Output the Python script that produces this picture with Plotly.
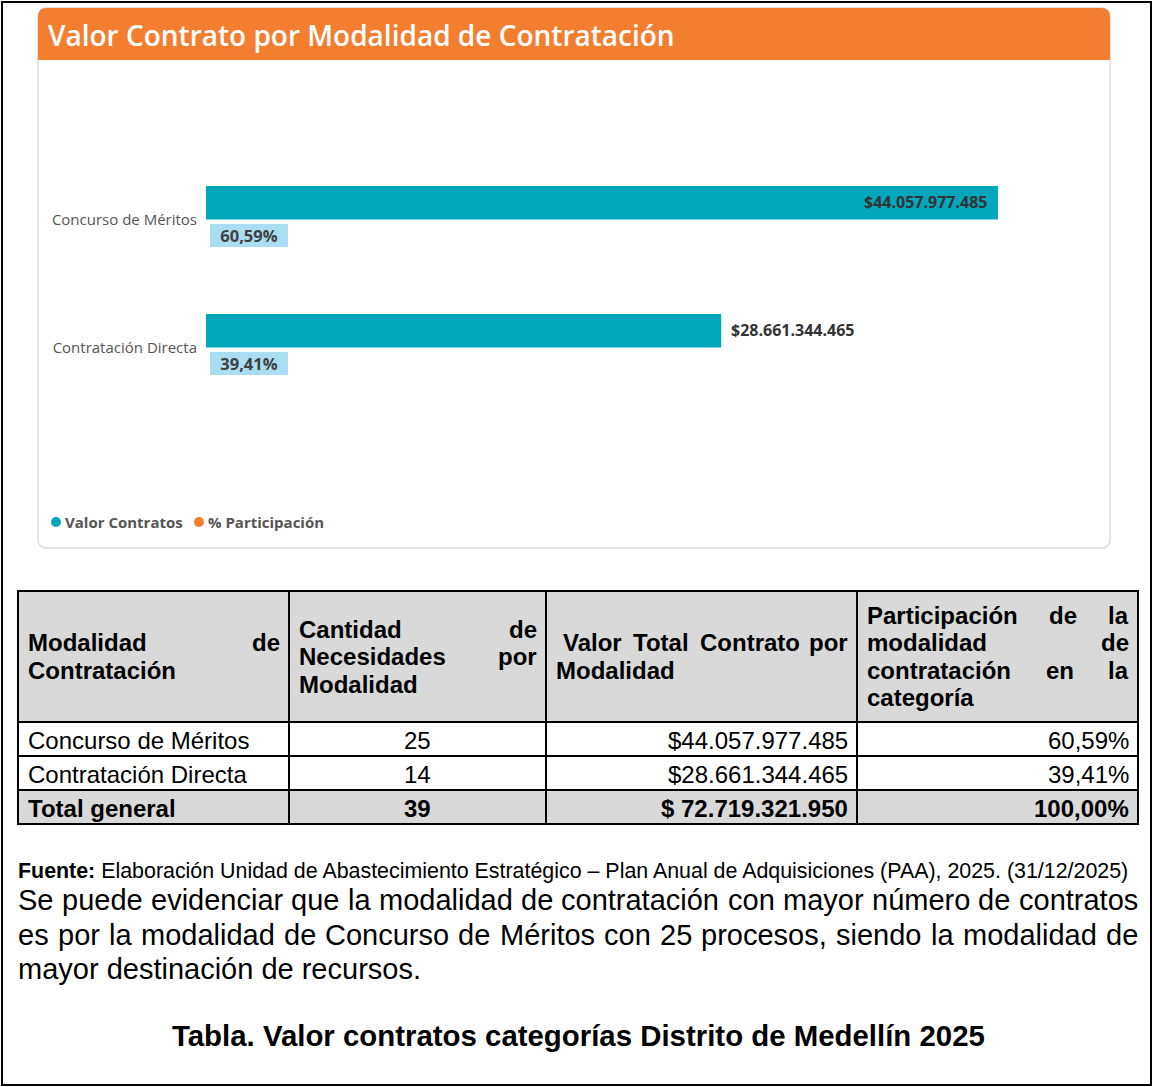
import unicodedata
import plotly.graph_objects as go

W, H = 1154, 1087

# ---------------- data ----------------
modalidades = ["Concurso de Méritos", "Contratación Directa"]
valor_contratos = [44057977485, 28661344465]
participacion = [60.59, 39.41]          # %
cantidad = [25, 14]

titulo = "Valor Contrato por Modalidad de Contratación"
legend_labels = ["Valor Contratos", "% Participación"]
header_lines = [
    ["Modalidad de", "Contratación"],
    ["Cantidad de", "Necesidades por", "Modalidad"],
    ["Valor Total Contrato por", "Modalidad"],
    ["Participación de la", "modalidad de", "contratación en la", "categoría"],
]
total_label = "Total general"
fuente = ("<b>Fuente:</b> Elaboración Unidad de Abastecimiento Estratégico – Plan Anual de "
          "Adquisiciones (PAA), 2025. (31/12/2025)")
parrafo = [
    "Se puede evidenciar que la modalidad de contratación con mayor número de contratos",
    "es por la modalidad de Concurso de Méritos con 25 procesos, siendo la modalidad de",
    "mayor destinación de recursos.",
]
caption = "Tabla. Valor contratos categorías Distrito de Medellín 2025"

# ---------------- styles ----------------
TEAL = "#01A7BB"
ORANGE = "#F47E2F"
LBLUE = "#A9DDF1"
GREY_FILL = "#D9D9D9"
UI = "Segoe UI, Open Sans, Noto Sans, sans-serif"
ARIAL = "Arial, Liberation Sans, sans-serif"


def px(x):
    return x / W


def py(y):
    return 1 - y / H


# Arial / Liberation Sans advance widths (1/1000 em)
_low = "abcdefghijklmnopqrstuvwxyz"
_up = "ABCDEFGHIJKLMNOPQRSTUVWXYZ"
REG = dict(zip(_low, [556, 556, 500, 556, 556, 278, 556, 556, 222, 222, 500, 222, 833,
                      556, 556, 556, 556, 333, 500, 278, 556, 500, 722, 500, 500, 500]))
REG.update(zip(_up, [667, 667, 722, 722, 667, 611, 778, 722, 278, 500, 667, 556, 833,
                     722, 778, 667, 778, 722, 667, 611, 722, 667, 944, 667, 667, 611]))
BOLD = dict(zip(_low, [556, 611, 556, 611, 556, 333, 611, 611, 278, 278, 556, 278, 889,
                       611, 611, 611, 611, 389, 556, 333, 611, 556, 778, 556, 556, 500]))
BOLD.update(zip(_up, [722, 722, 722, 722, 667, 611, 778, 722, 278, 556, 722, 611, 833,
                      722, 778, 667, 778, 722, 667, 611, 722, 667, 944, 667, 667, 611]))
for d in (REG, BOLD):
    d.update({c: 556 for c in "0123456789$–"})
    d.update({" ": 278, ",": 278, ".": 278, "/": 278, "(": 333, ")": 333, "%": 889})
REG[":"] = 278
BOLD[":"] = 333


def text_width(s, size, bold=False):
    table = BOLD if bold else REG
    tot = 0
    for ch in s:
        base = unicodedata.normalize("NFD", ch)[0]
        tot += table.get(base, 556)
    return tot / 1000 * size


fig = go.Figure()


def txt(x, y, s, size, family=ARIAL, color="black", anchor="left", weight=None, **kw):
    font = dict(size=size, family=family, color=color)
    if weight:
        font["weight"] = weight
    fig.add_annotation(x=px(x), y=py(y), xref="paper", yref="paper", text=s,
                       showarrow=False, xanchor=anchor, yanchor="middle", font=font,
                       borderpad=0, borderwidth=0, **kw)


def line_text(line, x0, x1, y, size, bold=False, justify=True):
    words = line.split()
    if not justify or len(words) < 2:
        txt(x0, y, f"<b>{line}</b>" if bold else line, size)
        return
    ws = [text_width(w, size, bold) for w in words]
    gap = (x1 - x0 - sum(ws)) / (len(words) - 1)
    x = x0
    for i, w in enumerate(words):
        s = f"<b>{w}</b>" if bold else w
        if i == len(words) - 1:
            txt(x1, y, s, size, anchor="right")
        else:
            txt(x, y, s, size)
        x += ws[i] + gap


def rrect(x0, y0, x1, y1, r, top=True, bottom=True):
    rt = r if top else 0
    rb = r if bottom else 0

    def p(x, y):
        return f"{px(x):.5f},{py(y):.5f}"
    return (f"M{p(x0 + rt, y0)} L{p(x1 - rt, y0)} Q{p(x1, y0)} {p(x1, y0 + rt)} "
            f"L{p(x1, y1 - rb)} Q{p(x1, y1)} {p(x1 - rb, y1)} L{p(x0 + rb, y1)} "
            f"Q{p(x0, y1)} {p(x0, y1 - rb)} L{p(x0, y0 + rt)} Q{p(x0, y0)} {p(x0 + rt, y0)} Z")


# ---------------- outer frame & card ----------------
fig.add_shape(type="rect", xref="paper", yref="paper", x0=px(2), x1=px(1151), y0=py(2), y1=py(1085),
              line=dict(color="black", width=2), fillcolor="rgba(0,0,0,0)", layer="below")
fig.add_shape(type="path", xref="paper", yref="paper", path=rrect(38, 8, 1110, 548, 9),
              fillcolor="white", line=dict(color="#DCDCDC", width=1.5), layer="below")
fig.add_shape(type="path", xref="paper", yref="paper", path=rrect(38, 8, 1110, 60, 9, bottom=False),
              fillcolor=ORANGE, line=dict(width=0), layer="below")
txt(48, 35, titulo, 28, family=UI, color="white", weight=600)

# ---------------- bars ----------------
fig.add_trace(go.Bar(y=modalidades, x=valor_contratos, orientation="h", name=legend_labels[0],
                     marker=dict(color=TEAL, line=dict(width=0)), showlegend=False, hoverinfo="skip"))
fig.add_trace(go.Bar(y=modalidades, x=[p / 100 for p in participacion], orientation="h",
                     name=legend_labels[1], marker=dict(color=ORANGE, line=dict(width=0)),
                     showlegend=False, hoverinfo="skip"))

vmax = max(valor_contratos)
for cat, v, p in zip(modalidades, valor_contratos, participacion):
    label = "$" + f"{v:,.0f}".replace(",", ".")
    inside = v / vmax > 0.75
    fig.add_annotation(x=v, y=cat, xref="x", yref="y", text=label, showarrow=False,
                       xanchor="right" if inside else "left", xshift=-11 if inside else 10,
                       yshift=17, yanchor="middle", borderpad=0, borderwidth=0,
                       font=dict(family=UI, size=16, color="#333333", weight=700))
    fig.add_annotation(x=0, y=cat, xref="x", yref="y", text=f"{p:.2f}".replace(".", ",") + "%",
                       showarrow=False, xanchor="left", xshift=4, yshift=-16, yanchor="middle",
                       bgcolor=LBLUE, width=72, height=17, borderpad=3, borderwidth=0, align="center",
                       font=dict(family=UI, size=16.5, color="#404040", weight=700))

# legend
for (cx, col, lab, tx) in [(56, TEAL, legend_labels[0], 65), (199, ORANGE, legend_labels[1], 208)]:
    fig.add_shape(type="circle", xref="paper", yref="paper", x0=px(cx - 5), x1=px(cx + 5),
                  y0=py(527), y1=py(517), fillcolor=col, line=dict(width=0))
    txt(tx, 522, lab, 15, family=UI, color="#555555", weight=700)

# ---------------- table ----------------
col_edges = [18, 289, 546, 857, 1138]
row_edges = [591, 722, 756, 790, 824]

rows = []
for m, c, v, p in zip(modalidades, cantidad, valor_contratos, participacion):
    rows.append(([m, str(c), "$" + f"{v:,.0f}".replace(",", "."), f"{p:.2f}".replace(".", ",") + "%"], False))
rows.append(([total_label, str(sum(cantidad)), "$ " + f"{sum(valor_contratos):,.0f}".replace(",", "."),
              f"{sum(participacion):.2f}".replace(".", ",") + "%"], True))

fills = [GREY_FILL] + ["white"] * len(modalidades) + [GREY_FILL]
for ri in range(len(row_edges) - 1):
    for ci in range(len(col_edges) - 1):
        fig.add_shape(type="rect", xref="paper", yref="paper",
                      x0=px(col_edges[ci]), x1=px(col_edges[ci + 1]),
                      y0=py(row_edges[ri + 1]), y1=py(row_edges[ri]),
                      fillcolor=fills[ri], line=dict(color="black", width=2), layer="below")

FS = 24
hc = (row_edges[0] + row_edges[1]) / 2
pad_left = [10, 10, 17, 10]
for ci, lines in enumerate(header_lines):
    n = len(lines)
    for li, ln in enumerate(lines):
        y = hc + (li - (n - 1) / 2) * 27.5
        x0 = col_edges[ci] + (pad_left[ci] if li == 0 else 10)
        x1 = col_edges[ci + 1] - 9
        line_text(ln, x0, x1, y, FS, bold=True, justify=(li < n - 1))

aligns = ["left", "center", "right", "right"]
for ri, (vals, bold) in enumerate(rows):
    yc = (row_edges[ri + 1] + row_edges[ri + 2]) / 2 + 1
    for ci, s in enumerate(vals):
        a = aligns[ci]
        if a == "left":
            x = col_edges[ci] + 10
        elif a == "right":
            x = col_edges[ci + 1] - 9
        else:
            x = (col_edges[ci] + col_edges[ci + 1]) / 2
        txt(x, yc, f"<b>{s}</b>" if bold else s, FS, anchor=a)

# ---------------- text below ----------------
txt(18, 871, fuente, 21.4)
for i, ln in enumerate(parrafo):
    line_text(ln, 18, 1138, 900 + i * 34.5, 29, justify=(i < len(parrafo) - 1))
txt(578.5, 1035, f"<b>{caption}</b>", 29.4, anchor="center")

# ---------------- layout ----------------
fig.update_layout(
    width=W, height=H, margin=dict(l=0, r=0, t=0, b=0),
    paper_bgcolor="white", plot_bgcolor="rgba(0,0,0,0)",
    barmode="group", bargap=1 - 67 / 128, bargroupgap=0,
    showlegend=False,
    xaxis=dict(domain=[px(206), px(1100)], range=[0, vmax * 894 / 792], visible=False, fixedrange=True),
    yaxis=dict(domain=[py(411.5), py(155.5)], autorange="reversed", type="category",
               showgrid=False, zeroline=False, showline=False, ticks="", ticklen=0,
               ticklabelstandoff=8, fixedrange=True,
               tickfont=dict(family=UI, size=15, color="#555555")),
)

fig.write_html("out.html", config={"displayModeBar": False},
               post_script="document.body.style.margin='0';document.body.style.overflow='hidden';")
